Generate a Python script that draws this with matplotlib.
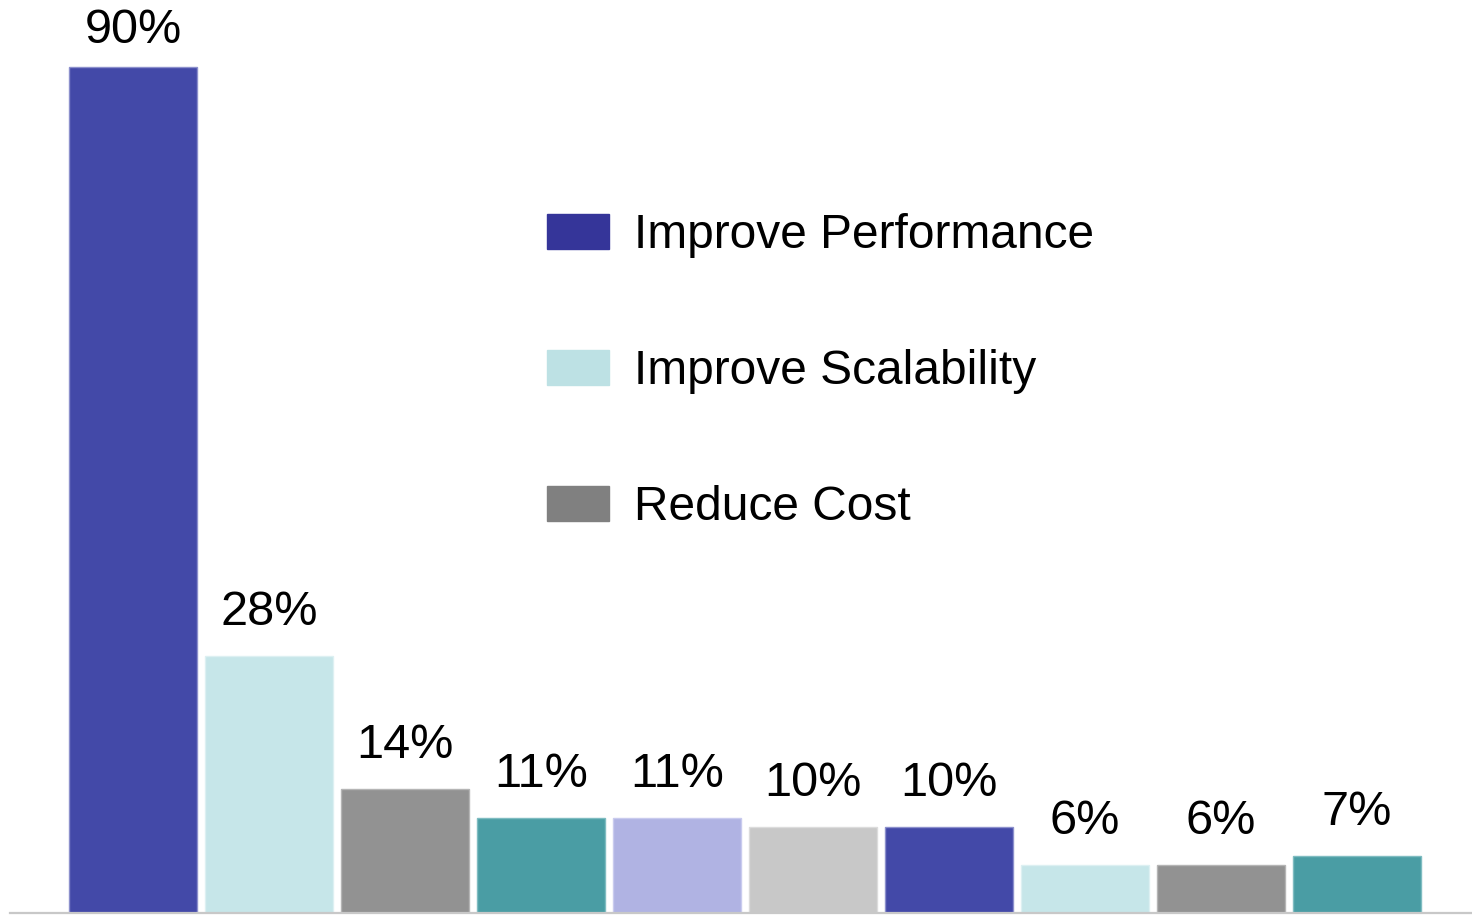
import matplotlib
matplotlib.use("Agg")
import matplotlib.pyplot as plt
from matplotlib.patches import Patch

plt.rcParams['font.family'] = ['Liberation Sans', 'DejaVu Sans']

values = [90, 28, 14, 11, 11, 10, 10, 6, 6, 7]
labels = ["90%", "28%", "14%", "11%", "11%", "10%", "10%", "6%", "6%", "7%"]
bar_colors = ["#4349A8", "#C6E6E9", "#929292", "#4A9DA4", "#B0B3E3",
              "#C8C8C8", "#4349A8", "#C6E6E9", "#929292", "#4A9DA4"]
edge_colors = ["#8C90CC", "#DDF0F2", "#B5B5B5", "#7FBCC1", "#C9CBEE",
               "#DCDCDC", "#8C90CC", "#DDF0F2", "#B5B5B5", "#7FBCC1"]
legend_labels = ["Improve Performance", "Improve Scalability", "Reduce Cost"]
legend_colors = ["#353599", "#BDE1E4", "#808080"]

W, H = 1472, 916
fig = plt.figure(figsize=(W / 100, H / 100), dpi=100)
ax = fig.add_axes([10 / W, 3 / H, 1 - 10 / W, 913 / H])

x = list(range(len(values)))
ax.bar(x, values, width=0.941, color=bar_colors, edgecolor=edge_colors, linewidth=1)
ax.set_xlim(-0.904, 9.846)
ax.set_ylim(0.95, 97.05)

for xi, v, lab in zip(x, values, labels):
    off = 15 if v < 80 else 10
    ax.annotate(lab, (xi, v), xytext=(0, off), textcoords="offset points",
                ha="center", va="bottom", fontsize=35, color="black")

for s in ["top", "right", "left"]:
    ax.spines[s].set_visible(False)
ax.spines["bottom"].set_color("#C8C8C8")
ax.spines["bottom"].set_linewidth(1.6)
ax.set_xticks([])
ax.set_yticks([])

handles = [Patch(facecolor=c, edgecolor=c) for c in legend_colors]
leg = ax.legend(handles, legend_labels, loc="upper left",
                bbox_to_anchor=(547 / W, 1 - 213 / H), bbox_transform=fig.transFigure,
                frameon=False, fontsize=34.5, handlelength=1.30, handleheight=0.76,
                handletextpad=0.52, labelspacing=1.9, borderpad=0, borderaxespad=0)

fig.savefig("out.png", dpi=100)
